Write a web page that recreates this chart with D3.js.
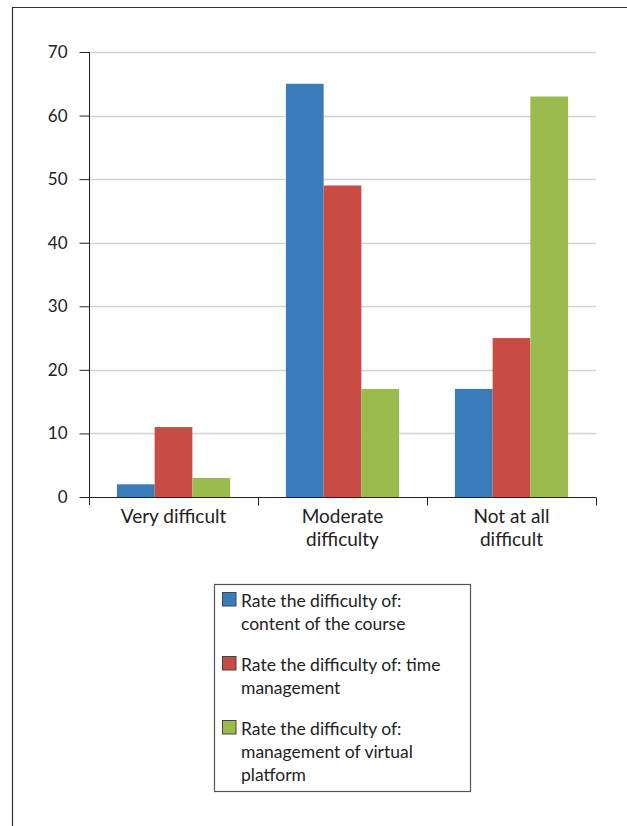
<!DOCTYPE html>
<html>
<head>
<meta charset="utf-8">
<script src="https://cdn.jsdelivr.net/npm/d3@7"></script>
<style>
  html, body { margin: 0; padding: 0; background: #fff; }
  svg { display: block; }
  text { font-family: Lato, "Open Sans", sans-serif; fill: #222; }
</style>
</head>
<body>
<div id="chart"></div>
<script>
// Response categories (x axis), wrapped onto lines
const categories = ["Very difficult", "Moderate difficulty", "Not at all difficult"];
const categoryLines = [["Very difficult"], ["Moderate", "difficulty"], ["Not at all", "difficult"]];

// Series: what was rated
const seriesNames = [
  "Rate the difficulty of: content of the course",
  "Rate the difficulty of: time management",
  "Rate the difficulty of: management of virtual platform"
];
const legendLines = [
  ["Rate the difficulty of:", "content of the course"],
  ["Rate the difficulty of: time", "management"],
  ["Rate the difficulty of:", "management of virtual", "platform"]
];
const seriesColors = ["#3a7cba", "#c84c43", "#9cbb4f"];

// Counts per category, one array per series
const contentValues  = [2, 65, 17];
const timeValues     = [11, 49, 25];
const platformValues = [3, 17, 63];
const seriesValues = [contentValues, timeValues, platformValues];

const yTicks = [0, 10, 20, 30, 40, 50, 60, 70];

const W = 627, H = 826;
const svg = d3.select("#chart").append("svg").attr("width", W).attr("height", H);

// Outer frame (open to the right and bottom)
svg.append("path")
  .attr("d", `M12.5,${H} V7.5 H${W}`)
  .attr("fill", "none").attr("stroke", "#333").attr("stroke-width", 1.2);

const plot = { left: 89, right: 596, top: 52, bottom: 497 };

const x0 = d3.scaleBand().domain(categories).range([plot.left, plot.right]).paddingInner(0).paddingOuter(0);
const x1 = d3.scaleBand().domain(d3.range(seriesNames.length)).range([0, x0.bandwidth()]).paddingInner(0).paddingOuter(0.74);
const y = d3.scaleLinear().domain([0, 70]).range([plot.bottom, plot.top]);

// Horizontal gridlines
svg.append("g").selectAll("line").data(yTicks.filter(d => d > 0)).join("line")
  .attr("x1", plot.left).attr("x2", plot.right)
  .attr("y1", d => Math.round(y(d)) + 0.5).attr("y2", d => Math.round(y(d)) + 0.5)
  .attr("stroke", "#d3d3d3").attr("stroke-width", 1.5);

// Bars
const groups = svg.append("g").selectAll("g").data(categories).join("g")
  .attr("transform", d => `translate(${x0(d)},0)`);
groups.selectAll("rect")
  .data((c, ci) => seriesValues.map((vals, si) => ({ si, v: vals[ci] })))
  .join("rect")
  .attr("x", d => x1(d.si))
  .attr("width", x1.bandwidth())
  .attr("y", d => y(d.v))
  .attr("height", d => y(0) - y(d.v))
  .attr("fill", d => seriesColors[d.si]);

// Y axis
const yAxis = svg.append("g")
  .attr("transform", `translate(${plot.left + 0.5},0)`)
  .call(d3.axisLeft(y).tickValues(yTicks).tickSize(10).tickPadding(12).tickFormat(d3.format("d")));
yAxis.select(".domain").attr("stroke", "#222").attr("d", `M0,${plot.top}V${plot.bottom + 8}`);
yAxis.selectAll(".tick line").attr("stroke", "#222");
yAxis.selectAll(".tick text").attr("font-size", 17).attr("fill", "#222")
  .style("font-family", "Lato, sans-serif");

// X axis baseline with category boundary ticks
const xAxis = svg.append("g").attr("transform", `translate(0,${Math.round(y(0)) + 0.5})`);
xAxis.append("line").attr("x1", plot.left).attr("x2", plot.right)
  .attr("stroke", "#222");
const bounds = categories.map(c => x0(c) + x0.bandwidth());
xAxis.selectAll(".xt").data(bounds).join("line").attr("class", "xt")
  .attr("x1", d => Math.round(d) + 0.5).attr("x2", d => Math.round(d) + 0.5)
  .attr("y1", 0).attr("y2", 8).attr("stroke", "#222");

// Category labels
const catLabels = svg.append("g").selectAll("text").data(categories).join("text")
  .attr("x", d => x0(d) + x0.bandwidth() / 2)
  .attr("y", 523)
  .attr("text-anchor", "middle")
  .attr("font-size", 19);
catLabels.selectAll("tspan").data((d, i) => categoryLines[i]).join("tspan")
  .attr("x", function () { return d3.select(this.parentNode).attr("x"); })
  .attr("dy", (d, i) => i === 0 ? 0 : 23)
  .text(d => d);

// Legend
const legend = svg.append("g");
legend.append("rect")
  .attr("x", 214.5).attr("y", 584.5).attr("width", 256).attr("height", 207)
  .attr("fill", "#fff").attr("stroke", "#555").attr("stroke-width", 1.2);
const entryTop = [592, 656, 720];
const items = legend.selectAll("g.item").data(seriesNames).join("g").attr("class", "item")
  .attr("transform", (d, i) => `translate(222,${entryTop[i]})`);
items.append("rect").attr("x", 0.5).attr("y", 0.5).attr("width", 13.5).attr("height", 13.5)
  .attr("fill", (d, i) => seriesColors[i]).attr("stroke", "#444").attr("stroke-width", 1);
items.append("text").attr("x", 19).attr("y", 14.5).attr("font-size", 17.5)
  .selectAll("tspan").data((d, i) => legendLines[i]).join("tspan")
  .attr("x", 19).attr("dy", (d, i) => i === 0 ? 0 : 23)
  .text(d => d);
</script>
</body>
</html>
